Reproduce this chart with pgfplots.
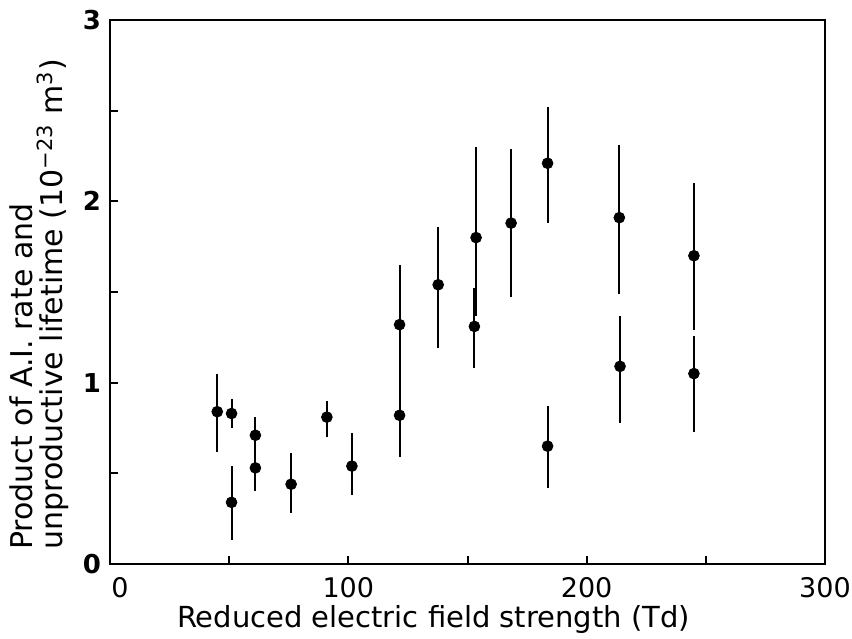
\documentclass[border=0pt]{standalone}
\usepackage{fontspec}
\setmainfont{DejaVu Sans}
\usepackage{pgfplots}
\pgfplotsset{compat=1.18}
\begin{document}
\begin{tikzpicture}
\begin{axis}[
  scale only axis,
  width=357.5pt, height=272pt,
  xmin=0, xmax=300, ymin=0, ymax=3,
  axis line style={line width=1.2pt},
  xtick={0,100,200,300},
  xticklabels={\hspace*{10pt}0,100,200,300},
  minor xtick={50,150,250},
  ytick={0,1,2,3},
  minor ytick={0.5,1.5,2.5},
  tick align=inside,
  xtick pos=bottom, ytick pos=left,
  major tick length=4pt, minor tick length=4pt,
  every tick/.style={line width=1pt, black},
  /pgf/number format/assume math mode=true,
  xticklabel style={font=\fontsize{13.5}{13.5}\selectfont, yshift=-3pt},
  yticklabel style={font=\bfseries\fontsize{13}{13}\selectfont, xshift=-1pt},
  xlabel={Reduced electric field strength (Td)},
  xlabel style={font=\fontsize{14.5}{14.5}\selectfont, yshift=3pt, xshift=-17pt},
  ylabel={Product of A.I. rate and\\unproductive lifetime (10\textsuperscript{−23} m\textsuperscript{3})},
  ylabel style={font=\fontsize{15}{15}\selectfont, align=left, at={(ticklabel cs:0.477)}},
]
\addplot+[black, only marks, mark=*, mark size=2.7pt,
  mark options={fill=black, draw=black},
  error bars/.cd, y dir=both, y explicit,
  error bar style={line width=1pt, black},
  error mark=none]
coordinates {
  (45,0.84)    += (0,0.21) -= (0,0.22)
  (51,0.83)    += (0,0.08) -= (0,0.08)
  (51,0.34)    += (0,0.20) -= (0,0.21)
  (61,0.71)    += (0,0.10) -= (0,0.11)
  (61,0.53)    += (0,0.11) -= (0,0.13)
  (76,0.44)    += (0,0.17) -= (0,0.16)
  (91,0.81)    += (0,0.09) -= (0,0.11)
  (101.5,0.54) += (0,0.18) -= (0,0.16)
  (121.5,1.32) += (0,0.33) -= (0,0.30)
  (121.5,0.82) += (0,0.20) -= (0,0.23)
  (137.7,1.54) += (0,0.32) -= (0,0.35)
  (153.6,1.80) += (0,0.50) -= (0,0.43)
  (152.9,1.31) += (0,0.21) -= (0,0.23)
  (168.3,1.88) += (0,0.41) -= (0,0.41)
  (183.6,2.21) += (0,0.31) -= (0,0.33)
  (183.6,0.65) += (0,0.22) -= (0,0.23)
  (213.7,1.91) += (0,0.40) -= (0,0.42)
  (214,1.09)   += (0,0.28) -= (0,0.31)
  (245,1.70)   += (0,0.40) -= (0,0.41)
  (245,1.05)   += (0,0.21) -= (0,0.32)
};
\end{axis}
\pgfresetboundingbox
\path[use as bounding box] ([shift={(-55pt,-37pt)}]current axis.south west) rectangle ([shift={(13.5pt,10pt)}]current axis.north east);
\end{tikzpicture}
\end{document}
